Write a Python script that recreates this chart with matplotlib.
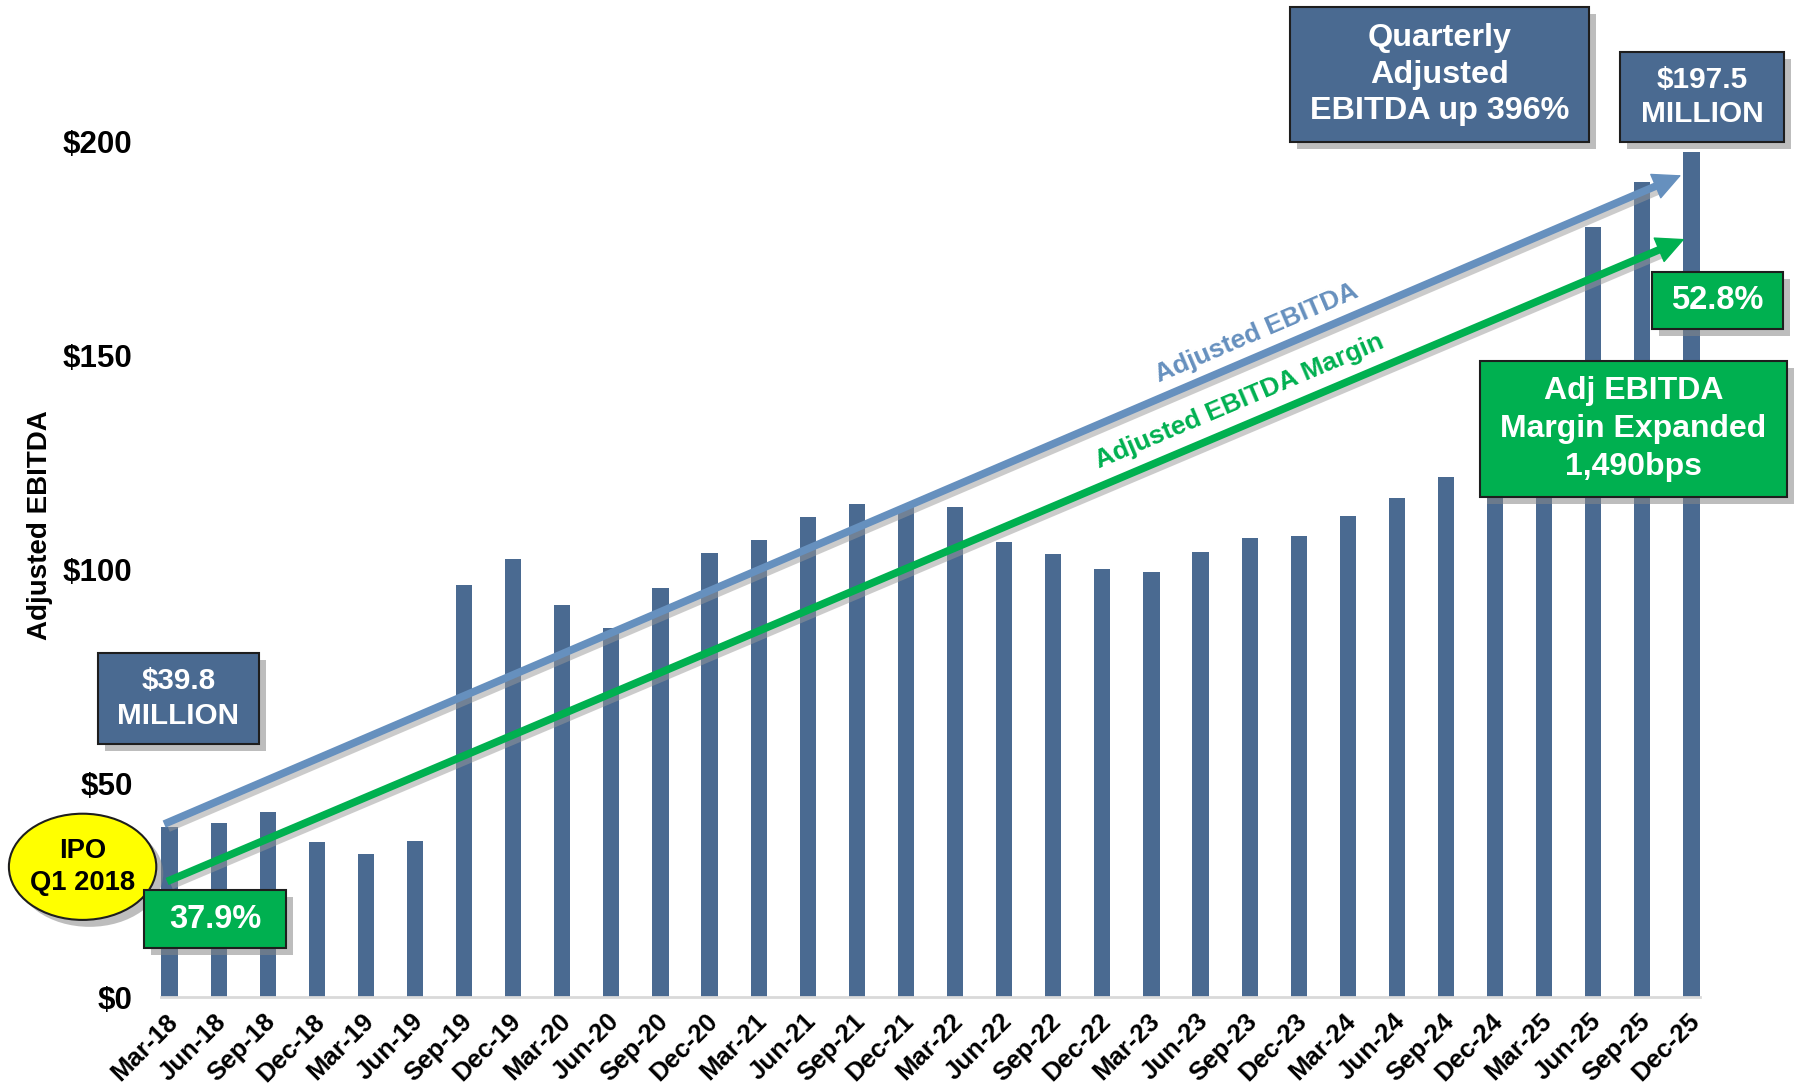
import numpy as np
import matplotlib.pyplot as plt
import matplotlib.patheffects as pe
from matplotlib.patches import Rectangle, Ellipse
from matplotlib.transforms import ScaledTranslation

plt.rcParams['font.family'] = ['Liberation Sans', 'DejaVu Sans']
plt.rcParams['font.weight'] = 'bold'

# Datos (millones USD, EBITDA ajustado trimestral)
trimestres = [
    'Mar-18', 'Jun-18', 'Sep-18', 'Dec-18', 'Mar-19', 'Jun-19', 'Sep-19', 'Dec-19',
    'Mar-20', 'Jun-20', 'Sep-20', 'Dec-20', 'Mar-21', 'Jun-21', 'Sep-21', 'Dec-21',
    'Mar-22', 'Jun-22', 'Sep-22', 'Dec-22', 'Mar-23', 'Jun-23', 'Sep-23', 'Dec-23',
    'Mar-24', 'Jun-24', 'Sep-24', 'Dec-24', 'Mar-25', 'Jun-25', 'Sep-25', 'Dec-25'
]

ebitda = [
    39.8, 40.6, 43.2, 36.2, 33.5, 36.4, 96.3, 102.3,
    91.5, 86.2, 95.6, 103.8, 106.8, 112.2, 115.1, 114.8,
    114.4, 106.3, 103.6, 100.1, 99.3, 104.0, 107.2, 107.6,
    112.4, 116.7, 121.4, 125.0, 121.0, 179.8, 190.5, 197.5
]

y_ticks = [0, 50, 100, 150, 200]
y_tick_labels = ['$0', '$50', '$100', '$150', '$200']

# flechas de tendencia: (indice trimestre, valor)
flecha_ebitda = [(-0.11, 40.4), (30.79, 192.0)]
flecha_margen = [(-0.05, 27.0), (30.86, 177.1)]

# Colores
azul_barra = '#4A6A91'
azul_flecha = '#6690BE'
verde = '#00B050'

W, H = 1799, 1087
fig = plt.figure(figsize=(W / 100, H / 100), dpi=100)
ax = fig.add_axes([145 / W, 1 - 997 / H, (1716 - 145) / W, 941.6 / H])

x = np.arange(len(trimestres))
ax.bar(x, ebitda, width=0.33, color=azul_barra, zorder=2)

ax.set_xlim(-0.5, len(trimestres) - 0.5)
ax.set_ylim(0, 220)

for s in ['top', 'right', 'left']:
    ax.spines[s].set_visible(False)
ax.spines['bottom'].set_color('#D9D9D9')
ax.spines['bottom'].set_linewidth(2)
ax.spines['bottom'].set_bounds(-0.17, len(trimestres) - 1 + 0.17)

ax.set_yticks(y_ticks)
ax.set_yticklabels(y_tick_labels, fontsize=22.5, fontweight='bold')
ax.set_xticks(x)
ax.set_xticklabels(trimestres, fontsize=18.5, fontweight='bold',
                   rotation=45, ha='right', va='center', rotation_mode='anchor')
ax.tick_params(axis='y', length=0, pad=9)
ax.tick_params(axis='x', length=0, pad=15)
for lab in ax.get_xticklabels():
    lab.set_transform(lab.get_transform() + ScaledTranslation(3 / 72, 0, fig.dpi_scale_trans))

fig.text(40 / W, 1 - 525 / H, 'Adjusted EBITDA', rotation=90, ha='center', va='center',
         fontsize=20, fontweight='bold')

sombra_linea = [pe.SimpleLineShadow(offset=(3, -3), shadow_color='#999999', alpha=0.5), pe.Normal()]
largo_punta = 26  # px


def flecha(puntos, color):
    (x0, y0), (x1, y1) = puntos
    p0 = ax.transData.transform((x0, y0))
    p1 = ax.transData.transform((x1, y1))
    d = (p1 - p0) / np.hypot(*(p1 - p0))
    xb, yb = ax.transData.inverted().transform(p1 - d * (largo_punta - 2))
    ax.plot([x0, xb], [y0, yb], color=color, lw=5.5, solid_capstyle='butt', zorder=3,
            path_effects=sombra_linea)
    ax.annotate('', xy=(x1, y1), xytext=(xb, yb),
                arrowprops=dict(arrowstyle='-|>,head_length=0.78,head_width=0.38',
                                mutation_scale=24, color=color, lw=1,
                                shrinkA=0, shrinkB=0),
                zorder=3)
    return np.degrees(np.arctan2(d[1], d[0]))


ang_e = flecha(flecha_ebitda, azul_flecha)
ang_m = flecha(flecha_margen, verde)

ax.text(22.14, 155.1, 'Adjusted EBITDA', rotation=ang_e, rotation_mode='anchor',
        ha='center', va='center', color=azul_flecha, fontsize=19, fontweight='bold', zorder=3)
ax.text(21.79, 139.1, 'Adjusted EBITDA Margin', rotation=ang_m, rotation_mode='anchor',
        ha='center', va='center', color=verde, fontsize=19, fontweight='bold', zorder=3)

sombra = [pe.SimplePatchShadow(offset=(5, -5), shadow_rgbFace='#888888', alpha=0.55), pe.Normal()]


def caja(x0, y0, x1, y1, color, texto, size, ls=1.15, tcolor='white'):
    r = Rectangle((x0 / W, 1 - y1 / H), (x1 - x0) / W, (y1 - y0) / H,
                  transform=fig.transFigure, facecolor=color, edgecolor='#1E1E1E',
                  lw=1.5, zorder=5, path_effects=sombra)
    fig.add_artist(r)
    fig.text((x0 + x1) / 2 / W, 1 - (y0 + y1) / 2 / H, texto, ha='center', va='center',
             color=tcolor, fontsize=size, fontweight='bold', linespacing=ls, zorder=6)


caja(98, 653, 259, 744, azul_barra, '$39.8\nMILLION', 21.3, ls=1.36)
caja(1290, 7, 1589, 142, azul_barra, 'Quarterly\nAdjusted\nEBITDA up 396%', 23.3, ls=1.3)
caja(1620, 52, 1784, 142, azul_barra, '$197.5\nMILLION', 21.5, ls=1.26)
caja(1652, 272, 1783, 329, verde, '52.8%', 23.5)
caja(1480, 361, 1787, 497, verde, 'Adj EBITDA\nMargin Expanded\n1,490bps', 23.0, ls=1.36)

elipse = Ellipse((82.6 / W, 1 - 866.8 / H), 147.4 / W, 106.2 / H, transform=fig.transFigure,
                 facecolor='#FFFF00', edgecolor='#1E1E1E', lw=1.5, zorder=5, path_effects=sombra)
fig.add_artist(elipse)
fig.text(82.6 / W, 1 - 866.8 / H, 'IPO\nQ1 2018', ha='center', va='center', color='black',
         fontsize=19.7, fontweight='bold', linespacing=1.28, zorder=6)

caja(144, 890, 286, 948, verde, '37.9%', 23.5)

fig.savefig('out.png', dpi=100)
